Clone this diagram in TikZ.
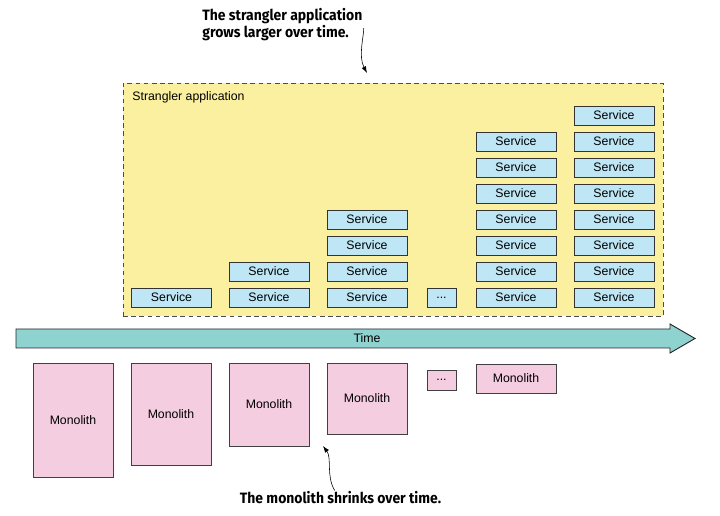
\documentclass[tikz,border=0pt]{standalone}
\usepackage{fontspec}
\setmainfont{Liberation Sans}
\newfontfamily\notefont{Fira Sans}[FakeStretch=0.93]
\usetikzlibrary{arrows.meta,positioning}

\definecolor{stranglerfill}{RGB}{250,240,160}
\definecolor{svcfill}{RGB}{190,230,245}
\definecolor{monofill}{RGB}{245,205,225}
\definecolor{timefill}{RGB}{143,211,208}

\tikzset{
  svc/.style={draw=black!80,line width=0.7pt,fill=svcfill,minimum width=2.4cm,minimum height=0.57cm,inner sep=0pt,font=\fontsize{10.5}{12}\selectfont},
  mono/.style={draw=black!75,line width=0.7pt,fill=monofill,minimum width=2.4cm,inner sep=0pt,font=\fontsize{10.5}{12}\selectfont},
  note/.style={font=\notefont\bfseries\fontsize{12.8}{14.5}\selectfont,align=left,inner sep=1pt},
  notearrow/.style={-{Latex[length=2mm,width=1.4mm]},line width=0.5pt}
}

\begin{document}
\begin{tikzpicture}[x=0.03cm,y=-0.03cm]
\useasboundingbox (0,0) rectangle (720,516);
\node[draw=black!70,line width=0.7pt,dash pattern=on 4pt off 3pt,fill=stranglerfill,minimum width=16.2cm,minimum height=6.99cm] (strangler) at (393,199.5) {};
\node[anchor=west,inner sep=1pt,font=\fontsize{10.5}{12}\selectfont] (stranglerlbl) at (131,97) {Strangler application};
% services, one column per step
\node[svc] (s11) at (171.5,297.5) {Service};
\node[svc] (s21) at (269,297.5) {Service};
\node[svc] (s22) at (269,271.5) {Service};
\node[svc] (s31) at (367,297.5) {Service};
\node[svc] (s32) at (367,271.5) {Service};
\node[svc] (s33) at (367,245.5) {Service};
\node[svc] (s34) at (367,219.5) {Service};
\node[svc,minimum width=0.87cm] (sdots) at (441.5,297.5) {...};
\node[svc] (s51) at (516,297.5) {Service};
\node[svc] (s52) at (516,271.5) {Service};
\node[svc] (s53) at (516,245.5) {Service};
\node[svc] (s54) at (516,219.5) {Service};
\node[svc] (s55) at (516,193.5) {Service};
\node[svc] (s56) at (516,167.5) {Service};
\node[svc] (s57) at (516,141.5) {Service};
\node[svc] (s61) at (614,297.5) {Service};
\node[svc] (s62) at (614,271.5) {Service};
\node[svc] (s63) at (614,245.5) {Service};
\node[svc] (s64) at (614,219.5) {Service};
\node[svc] (s65) at (614,193.5) {Service};
\node[svc] (s66) at (614,167.5) {Service};
\node[svc] (s67) at (614,141.5) {Service};
\node[svc] (s68) at (614,115.5) {Service};
% time axis
\draw[draw=black!85,line width=0.8pt,fill=timefill] (16,329)--(670,329)--(670,324)--(695,338.5)--(670,353)--(670,348)--(16,348)--cycle;
\node[font=\fontsize{10.5}{12}\selectfont] (time) at (367,338.5) {Time};
% monoliths
\node[mono,minimum height=3.42cm] (m1) at (73,420.5) {Monolith};
\node[mono,minimum height=3.06cm] (m2) at (171,414) {Monolith};
\node[mono,minimum height=2.49cm] (m3) at (269,404.5) {Monolith};
\node[mono,minimum height=2.13cm] (m4) at (367,398.5) {Monolith};
\node[mono,minimum width=0.87cm,minimum height=0.6cm] (mdots) at (441.5,380) {...};
\node[mono,minimum height=0.87cm] (m6) at (516,378.5) {Monolith};
% notes
\node[note,anchor=west] (grow) at (201,24.5) {The strangler application\\grows larger over time.};
\coordinate (growtip) at (367,73);
\draw[notearrow] ([yshift=-3pt]grow.east) .. controls (364,36) and (358,56) .. (growtip);
\node[note] (shrink) at (340.5,498) {The monolith shrinks over time.};
\coordinate (shrinktip) at (323,446);
\draw[notearrow] ([xshift=-5pt]shrink.north) .. controls (326,476) and (332,458) .. (shrinktip);
\end{tikzpicture}
\end{document}
